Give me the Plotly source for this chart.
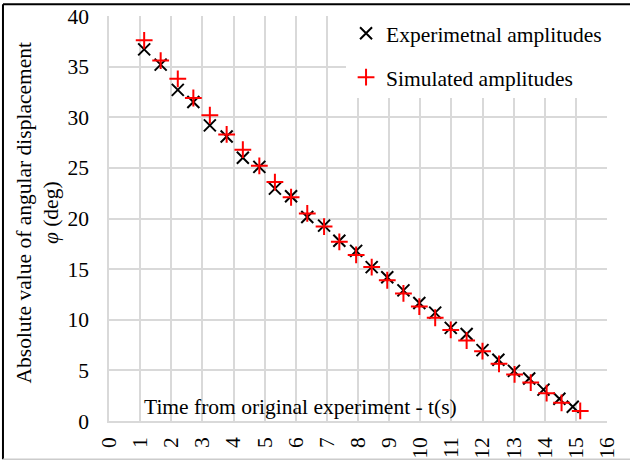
import plotly.graph_objects as go

# Half-period peak times (s) and absolute amplitudes (deg)
t_exp = [1.13, 1.66, 2.21, 2.71, 3.24, 3.78, 4.30, 4.83, 5.33, 5.85, 6.37, 6.91, 7.40, 7.94,
         8.44, 8.94, 9.46, 9.97, 10.48, 10.98, 11.49, 12.00, 12.51, 13.01, 13.50, 13.96, 14.47, 14.90]
amp_exp = [36.7, 35.2, 32.7, 31.5, 29.2, 28.1, 26.0, 25.1, 22.95, 22.2, 20.15, 19.3, 17.8, 16.8,
           15.2, 14.2, 12.9, 11.65, 10.7, 9.2, 8.6, 7.0, 6.05, 4.95, 4.2, 3.1, 2.2, 1.4]

t_sim = [1.13, 1.66, 2.21, 2.71, 3.24, 3.78, 4.30, 4.83, 5.33, 5.85, 6.37, 6.91, 7.40, 7.94,
         8.44, 8.94, 9.46, 9.97, 10.48, 10.98, 11.49, 12.00, 12.53, 13.03, 13.55, 14.06, 14.54, 15.14]
amp_sim = [37.6, 35.6, 33.8, 31.9, 30.2, 28.3, 26.8, 25.2, 23.6, 22.1, 20.5, 19.2, 17.7, 16.4,
           15.2, 13.9, 12.6, 11.3, 10.2, 9.0, 7.95, 6.9, 5.65, 4.6, 3.8, 2.75, 1.8, 1.0]

x_ticks = list(range(0, 17))
y_ticks = list(range(0, 41, 5))

FONT = "Liberation Serif"
FS = 21.5
GRID = "#d9d9d9"

fig = go.Figure()
fig.add_trace(go.Scatter(
    x=t_exp, y=amp_exp, mode="markers", name="Experimetnal amplitudes",
    legendgroup="a",
    marker=dict(symbol="x-thin", size=12, color="black",
                line=dict(width=2, color="black")),
))
fig.add_trace(go.Scatter(
    x=t_sim, y=amp_sim, mode="markers", name="Simulated amplitudes",
    legendgroup="b",
    marker=dict(symbol="cross-thin", size=12, color="#ff0000",
                line=dict(width=2, color="#ff0000")),
))

# x-axis caption sits inside the plotting area
fig.add_annotation(
    x=6.14, y=1.4, xref="x", yref="y", text="Time from original experiment - t(s)",
    showarrow=False, font=dict(family=FONT, size=FS, color="black"),
    xanchor="center", yanchor="middle",
)
# y-axis caption
fig.add_annotation(
    x=0, y=0.5, xref="paper", yref="paper", xshift=-72, yshift=6,
    text="Absolute value of angular displacement<br><i>φ</i> (deg)",
    textangle=-90, showarrow=False, xanchor="center", yanchor="middle",
    font=dict(family=FONT, size=FS, color="black"),
)

# outer frame
fig.add_shape(type="line", xref="paper", yref="paper", x0=-0.2129, x1=1.05, y0=1.029, y1=1.029,
              line=dict(color="black", width=2))
fig.add_shape(type="line", xref="paper", yref="paper", x0=-0.2129, x1=-0.2129, y0=-0.0946, y1=1.029,
              line=dict(color="black", width=2))
fig.add_shape(type="line", xref="paper", yref="paper", x0=-0.2129, x1=1.05, y0=-0.0946, y1=-0.0946,
              line=dict(color="#cccccc", width=1.5))

fig.update_xaxes(
    range=[0, 16], tickvals=x_ticks, ticktext=[str(v) for v in x_ticks],
    tickangle=-90, showgrid=True, gridcolor=GRID, gridwidth=1.5,
    showline=True, linecolor=GRID, linewidth=1.5, zeroline=False,
    ticks="", ticklabelstandoff=6,
    tickfont=dict(family=FONT, size=FS, color="black"),
)
fig.update_yaxes(
    range=[0, 40], tickvals=y_ticks, ticktext=[str(v) for v in y_ticks],
    showgrid=True, gridcolor=GRID, gridwidth=1.5,
    showline=True, linecolor=GRID, linewidth=1.5, zeroline=False,
    ticks="", ticklabelstandoff=14,
    tickfont=dict(family=FONT, size=FS, color="black"),
)

fig.update_layout(
    width=630, height=461,
    margin=dict(l=109, r=23, t=16, b=40, autoexpand=False),
    paper_bgcolor="white", plot_bgcolor="white",
    font=dict(family=FONT, size=FS, color="black"),
    legend=dict(
        x=0.476, y=1.008, xanchor="left", yanchor="top",
        bgcolor="white", borderwidth=0,
        font=dict(family=FONT, size=FS, color="black"),
        itemwidth=30, tracegroupgap=13, traceorder="grouped",
    ),
    showlegend=True,
)

fig.write_html("out.html")
